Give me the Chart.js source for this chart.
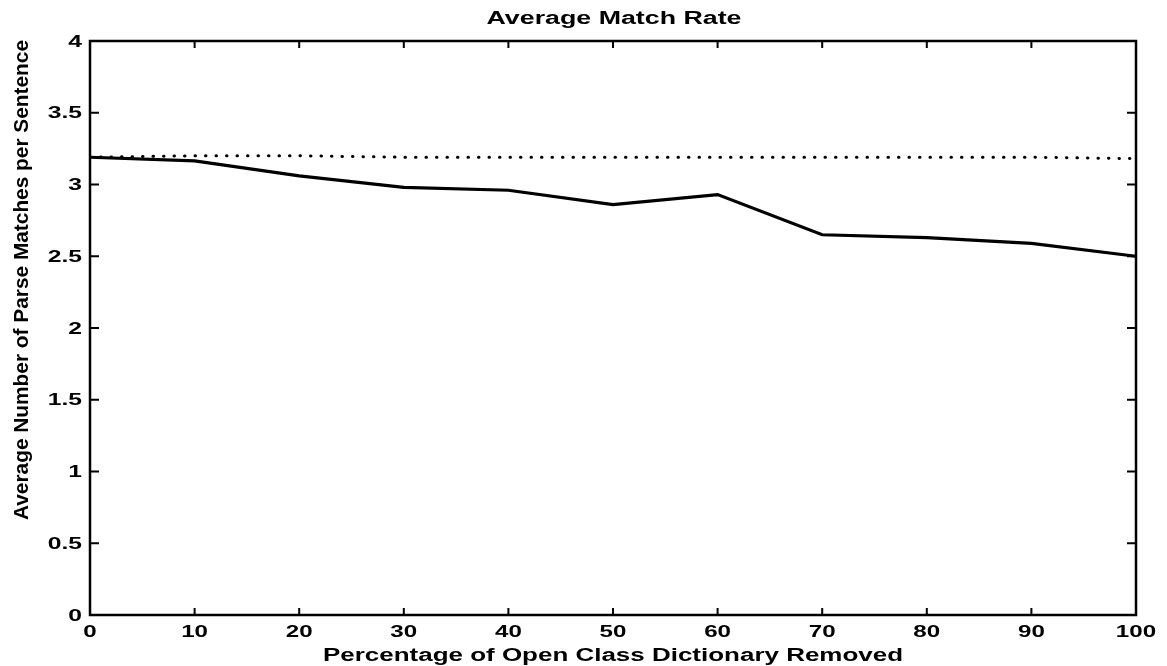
<!DOCTYPE html>
<html lang="en">
<head>
  <meta charset="UTF-8">
  <title>Average Match Rate</title>
  <script src="https://cdn.jsdelivr.net/npm/chart.js"></script>
  <style>
    body { margin: 0; background: #fff; }
    #chartBox { width: 1167px; height: 666px; position: relative; }
  </style>
</head>
<body>
  <div id="chartBox"><canvas id="matchChart" width="1167" height="666"></canvas></div>
  <script>
    // data
    const percentRemoved = [0, 10, 20, 30, 40, 50, 60, 70, 80, 90, 100];
    const matchRate = [3.19, 3.165, 3.06, 2.98, 2.96, 2.86, 2.93, 2.65, 2.63, 2.59, 2.50];
    const baselineRate = [3.19, 3.2, 3.2, 3.19, 3.19, 3.19, 3.19, 3.19, 3.19, 3.19, 3.18];
    const xTicks = [0, 10, 20, 30, 40, 50, 60, 70, 80, 90, 100];
    const yTicks = [0, 0.5, 1, 1.5, 2, 2.5, 3, 3.5, 4];

    const chartTitle = 'Average Match Rate';
    const xTitle = 'Percentage of Open Class Dictionary Removed';
    const yTitle = 'Average Number of Parse Matches per Sentence';

    const FONT = '"Liberation Sans", Arial, Helvetica, sans-serif';
    const NARROW = '"Liberation Sans Narrow", "Arial Narrow", "Liberation Sans", sans-serif';

    // text in the original is printed wider than any installed font, so stretch it
    function stretchText(ctx, text, x, y, size, width, opts = {}) {
      ctx.save();
      ctx.font = `bold ${size}px ${opts.family || FONT}`;
      const natural = ctx.measureText(text).width;
      const sx = width ? width / natural : (opts.scale || 1);
      ctx.translate(x, y);
      if (opts.rotate) ctx.rotate(opts.rotate);
      ctx.scale(sx, 1);
      ctx.fillStyle = '#000';
      ctx.textAlign = opts.align || 'center';
      ctx.textBaseline = opts.baseline || 'alphabetic';
      ctx.fillText(text, 0, 0);
      ctx.restore();
    }

    const matlabFrame = {
      id: 'matlabFrame',
      afterDraw(chart) {
        const { ctx, chartArea: a, scales } = chart;
        const xs = scales.x, ys = scales.y;

        // box
        ctx.save();
        ctx.strokeStyle = '#000';
        ctx.lineWidth = 2.5;
        ctx.strokeRect(a.left, a.top, a.right - a.left, a.bottom - a.top);

        // inward ticks on all four sides
        ctx.lineWidth = 2;
        ctx.beginPath();
        xTicks.forEach(v => {
          const px = xs.getPixelForValue(v);
          ctx.moveTo(px, a.bottom); ctx.lineTo(px, a.bottom - 7);
          ctx.moveTo(px, a.top); ctx.lineTo(px, a.top + 7);
        });
        yTicks.forEach(v => {
          const py = ys.getPixelForValue(v);
          ctx.moveTo(a.left, py); ctx.lineTo(a.left + 9, py);
          ctx.moveTo(a.right, py); ctx.lineTo(a.right - 9, py);
        });
        ctx.stroke();
        ctx.restore();

        // tick labels
        xTicks.forEach(v => {
          stretchText(ctx, String(v), xs.getPixelForValue(v), 637, 17, 0, { scale: 1.42 });
        });
        yTicks.forEach(v => {
          stretchText(ctx, String(v), 82, ys.getPixelForValue(v) + 1, 17, 0,
            { scale: 1.45, align: 'right', baseline: 'middle' });
        });

        // titles
        stretchText(ctx, chartTitle, 614, 24, 18, 255);
        stretchText(ctx, xTitle, 613, 661, 18, 580);
        stretchText(ctx, yTitle, 28, 280, 20, 480, { rotate: -Math.PI / 2, family: NARROW });
      }
    };

    const ctx = document.getElementById('matchChart').getContext('2d');
    const matchChart = new Chart(ctx, {
      type: 'line',
      data: {
        labels: percentRemoved,
        datasets: [
          {
            label: 'Reduced dictionary',
            data: percentRemoved.map((p, i) => ({ x: p, y: matchRate[i] })),
            borderColor: '#000',
            borderWidth: 3.2,
            pointRadius: 0,
            tension: 0
          },
          {
            label: 'Full dictionary',
            data: percentRemoved.map((p, i) => ({ x: p, y: baselineRate[i] })),
            borderColor: '#000',
            borderWidth: 3,
            borderDash: [0.5, 10],
            borderCapStyle: 'round',
            pointRadius: 0,
            tension: 0
          }
        ]
      },
      options: {
        responsive: false,
        animation: false,
        layout: { padding: { left: 0, right: 31, top: 41, bottom: 0 } },
        plugins: {
          legend: { display: false },
          title: { display: false },
          tooltip: { enabled: false }
        },
        scales: {
          x: {
            type: 'linear',
            min: 0,
            max: 100,
            grid: { display: false },
            border: { display: false },
            ticks: { display: false, stepSize: 10 },
            afterFit: s => { s.height = 51; }
          },
          y: {
            min: 0,
            max: 4,
            grid: { display: false },
            border: { display: false },
            ticks: { display: false, stepSize: 0.5 },
            afterFit: s => { s.width = 90; }
          }
        }
      },
      plugins: [matlabFrame]
    });
  </script>
</body>
</html>
